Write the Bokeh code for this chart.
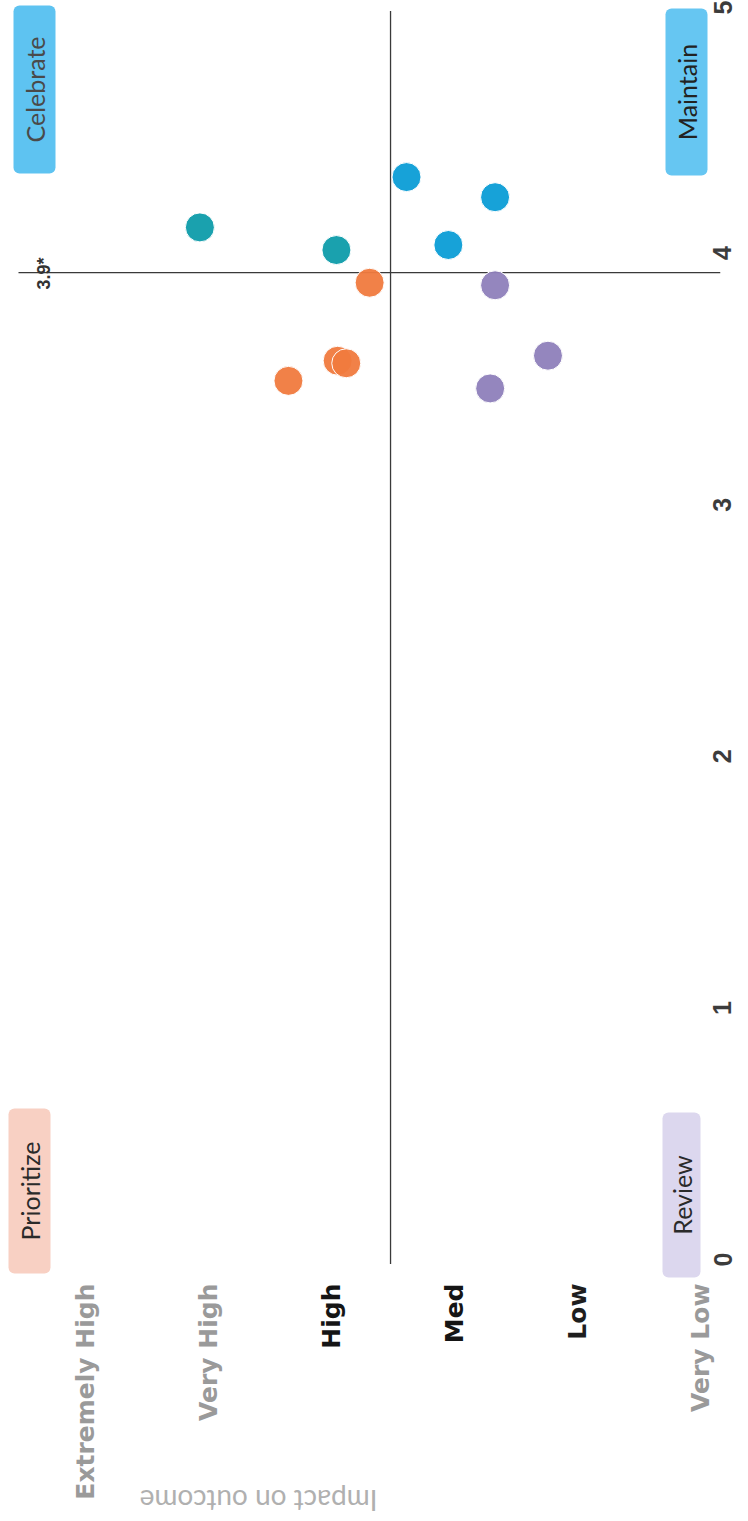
import math
from bokeh.plotting import figure
from bokeh.models import ColumnDataSource, LabelSet, Label, BoxAnnotation, FixedTicker, Range1d
from bokeh.core.properties import value
from bokeh.embed import file_html
from bokeh.resources import INLINE

# ---------------- data ----------------
categories = ["Extremely High", "Very High", "High", "Med", "Low", "Very Low"]
category_levels = [6, 5, 4, 3, 2, 1]
score_ticks = [0, 1, 2, 3, 4, 5]

impact = [3.39, 2.67, 3.96, 3.05, 3.69, 2.67, 2.24, 3.95, 3.88, 4.35, 2.71, 5.07]
score = [4.33, 4.25, 4.04, 4.06, 3.91, 3.90, 3.62, 3.60, 3.59, 3.52, 3.49, 4.13]
quadrant = ["Maintain", "Maintain", "Celebrate", "Maintain", "Prioritize", "Review",
            "Review", "Prioritize", "Prioritize", "Prioritize", "Review", "Celebrate"]

benchmark_score = 3.95
benchmark_label = "3.9*"
impact_split = 3.52

quadrant_names = ["Celebrate", "Maintain", "Prioritize", "Review"]

# ---------------- style ----------------
point_colors = {"Celebrate": "#0e9caa", "Maintain": "#0b9dd6",
                "Prioritize": "#f07a3e", "Review": "#8e80bb"}
box_colors = {"Celebrate": "#5ec3f1", "Maintain": "#66c6f2",
              "Prioritize": "#f8d0c3", "Review": "#dcd7ee"}
box_text_colors = {"Celebrate": "#4a4a4a", "Maintain": "#222222",
                   "Prioritize": "#2a2a2a", "Review": "#2a2a2a"}
label_colors = ["#9a9a9a", "#9a9a9a", "#151515", "#151515", "#1e1e1e", "#9a9a9a"]

W, H = 748, 1521
FL, FR, FT, FB = 5, 720, 0, 1521          # frame edges in page pixels
PX_X, PX_Y = 123.0, 251.6                 # pixels per unit
X_START = 6 + (85 - FL) / PX_X            # impact range (reversed)
X_END = X_START - (FR - FL) / PX_X
Y_END = 5 + 8 / PX_Y                      # score range
Y_START = Y_END - (FB - FT) / PX_Y


def xv(px):
    return X_START + (px - FL) * (X_END - X_START) / (FR - FL)


def ys(py):
    return Y_END + (py - FT) * (Y_START - Y_END) / (FB - FT)


p = figure(width=W, height=H, output_backend="svg", toolbar_location=None,
           x_range=Range1d(X_START, X_END), y_range=Range1d(Y_START, Y_END),
           y_axis_location="right",
           min_border_left=FL, min_border_top=FT, min_border_right=W - FR,
           min_border_bottom=H - FB)
p.outline_line_color = None
p.grid.visible = False
p.xaxis.visible = False
p.background_fill_color = "white"
p.border_fill_color = "white"

ax = p.yaxis[0]
ax.ticker = FixedTicker(ticks=score_ticks)
ax.axis_line_color = None
ax.major_tick_line_color = None
ax.minor_tick_line_color = None
ax.major_tick_out = 0
ax.major_tick_in = 0
ax.major_label_orientation = math.pi / 2
ax.major_label_standoff = 2
ax.major_label_text_font = "Liberation Sans"
ax.major_label_text_font_style = "bold"
ax.major_label_text_font_size = "25px"
ax.major_label_text_color = "#3c3c3c"

# quadrant boxes
box_px = {"Celebrate": (13, 55, 5, 173), "Maintain": (665, 707, 8, 175),
          "Prioritize": (8, 50, 1108, 1273), "Review": (662, 700, 1112, 1277)}
for name in quadrant_names:
    l, r, t, b = box_px[name]
    p.add_layout(BoxAnnotation(left=xv(l), right=xv(r), top=ys(t), bottom=ys(b),
                               fill_color=box_colors[name], fill_alpha=1.0,
                               line_color=None, border_radius=6, level="underlay"))
    p.add_layout(Label(x=xv((l + r) / 2), y=ys((t + b) / 2), text=name,
                       angle=math.pi / 2, text_align="center", text_baseline="middle",
                       text_font="Lato", text_font_size="25px",
                       text_color=box_text_colors[name]))

# reference lines
p.segment(x0=[xv(18)], y0=[benchmark_score], x1=[X_END], y1=[benchmark_score],
          line_color="#3a3a3a", line_width=1.3)
p.segment(x0=[impact_split], y0=[0.01], x1=[impact_split], y1=[4.99],
          line_color="#3a3a3a", line_width=1.3)

p.add_layout(Label(x=xv(43), y=ys(273), text=benchmark_label,
                   angle=math.pi / 2, text_align="center", text_baseline="middle",
                   text_font="Liberation Sans", text_font_style="bold",
                   text_font_size="18px", text_color="#333333"))

# points
src = ColumnDataSource(dict(impact=impact, score=score, quadrant=quadrant,
                            color=[point_colors[q] for q in quadrant]))
p.scatter(x="impact", y="score", source=src, size=29, fill_color="color",
          line_color="white", line_width=1, fill_alpha=0.95)

# category labels
cat_src = ColumnDataSource(dict(x=category_levels, y=[ys(1283)] * len(categories),
                                text=categories, color=label_colors))
p.add_layout(LabelSet(x="x", y="y", text="text", source=cat_src, angle=math.pi / 2,
                      text_align="right", text_baseline="middle",
                      text_font=value("DejaVu Sans"), text_font_style="bold",
                      text_font_size="25px", text_color="color"))

p.add_layout(Label(x=xv(258), y=ys(1500), text="Impact on outcome", angle=math.pi,
                   text_align="center", text_baseline="middle",
                   text_font="Lato", text_font_size="28px", text_color="#b0b0b0"))

open("out.html", "w").write(file_html(p, INLINE))
